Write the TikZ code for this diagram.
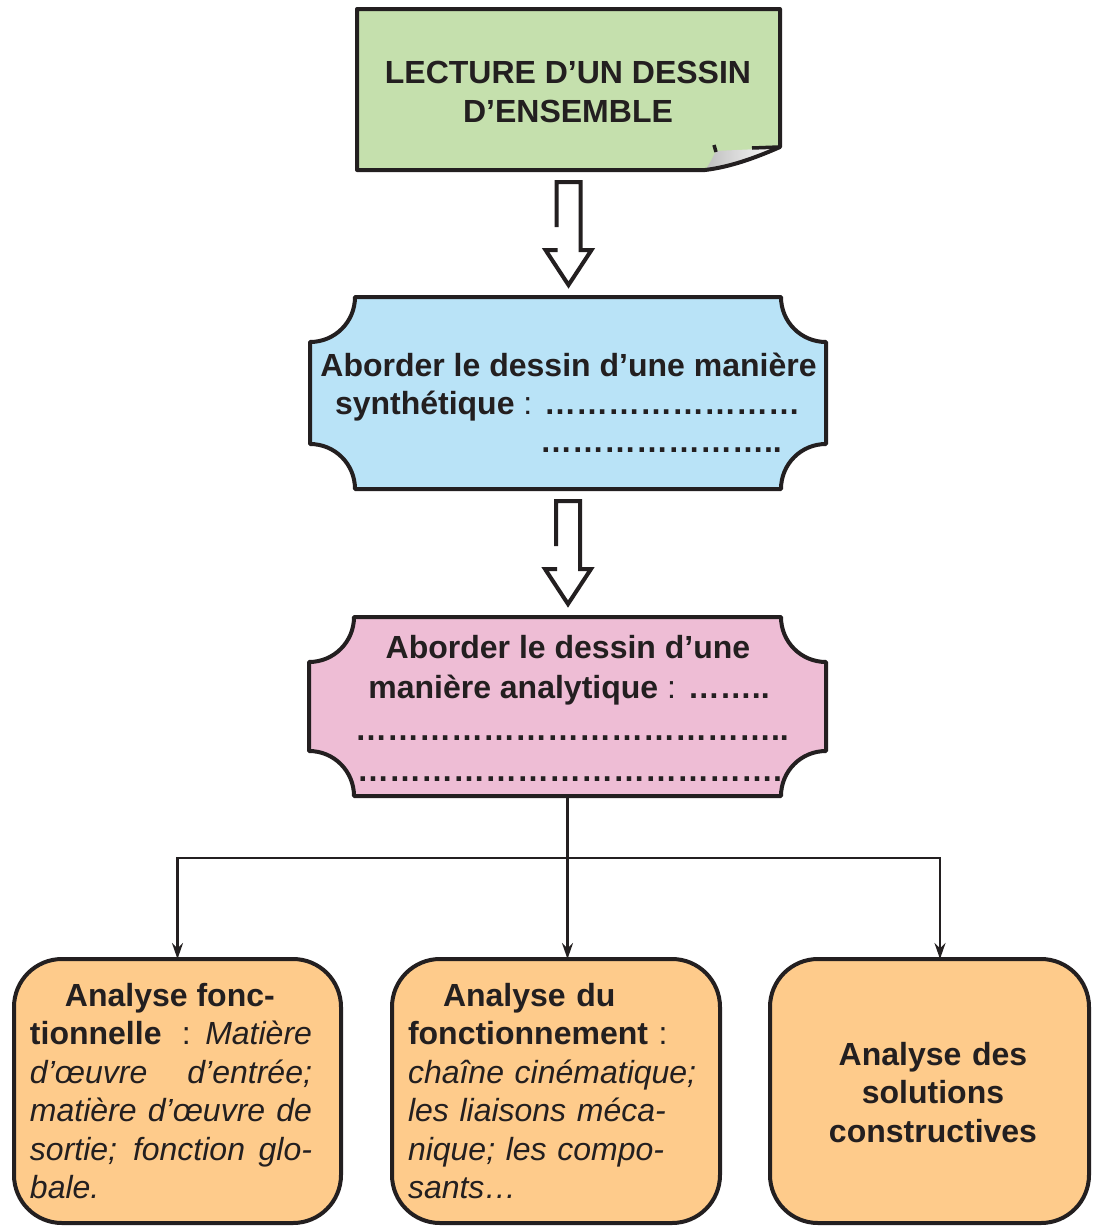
\documentclass[tikz,border=0pt]{standalone}
\usepackage{fontspec}
\setmainfont{Liberation Sans}
\usetikzlibrary{calc,arrows.meta}
\definecolor{ink}{HTML}{231F20}
\definecolor{boxgreen}{HTML}{C5E0AD}
\definecolor{boxblue}{HTML}{B9E3F7}
\definecolor{boxpink}{HTML}{EEBDD5}
\definecolor{boxorange}{HTML}{FECB8B}
\hbadness=10000
\hfuzz=5pt
\newcommand\bigfont{\fontsize{32}{38.5}\selectfont}
% scalloped box drawn on the anchors of an invisible node: #1 name, #2 fill, #3 radius, #4 control offset
\newcommand\scallopbox[4]{%
  \filldraw[fill=#2, draw=ink, line width=4pt, line join=round]
    ($(#1.north west)+(#3,0)$) -- ($(#1.north east)+(-#3,0)$)
    .. controls +(0,#4) and +(-#4,0) .. ($(#1.north east)+(0,#3)$)
    -- ($(#1.south east)+(0,-#3)$)
    .. controls +(-#4,0) and +(0,-#4) .. ($(#1.south east)+(-#3,0)$)
    -- ($(#1.south west)+(#3,0)$)
    .. controls +(0,-#4) and +(#4,0) .. ($(#1.south west)+(0,-#3)$)
    -- ($(#1.north west)+(0,#3)$)
    .. controls +(#4,0) and +(0,#4) .. cycle;}
% hollow block arrow from node #1 to node #2
\newcommand\hollowarrow[2]{%
  \begin{scope}[shift={($(#1.south)+(0,12)$)}]
    \draw[hollow] (-12,45) -- (-12,0) -- (12,0) -- (12,68) -- (23,68) -- (0,103) -- (-23,68) -- (-11,68);
  \end{scope}}
\begin{document}
\begin{tikzpicture}[x=1pt,y=-1pt,
  frame/.style={inner sep=0pt, outer sep=0pt, draw=none},
  roundbox/.style={inner sep=0pt, outer sep=0pt, draw=ink, fill=boxorange, line width=4pt, rounded corners=48pt},
  txt/.style={inner sep=0pt, outer sep=0pt, text=ink, font=\bigfont},
  hollow/.style={draw=ink, line width=4pt, line join=miter},
  conn/.style={draw=ink, line width=2.2pt, -{Stealth[length=16pt,width=11pt]}}]
\useasboundingbox (0,0) rectangle (1093,1227);
\fill[white] (0,0) rectangle (1093,1227);

% frames
\node[frame, minimum width=423pt, minimum height=161pt] (top) at (568.5,89.5) {};
\node[frame, minimum width=516pt, minimum height=192pt] (blue) at (568,393) {};
\node[frame, minimum width=517pt, minimum height=179pt] (pink) at (567.5,706.5) {};
\node[roundbox, minimum width=327pt, minimum height=264pt] (b1) at (177.5,1091) {};
\node[roundbox, minimum width=328pt, minimum height=264pt] (b2) at (556,1091) {};
\node[roundbox, minimum width=319pt, minimum height=264pt] (b3) at (929.5,1091) {};

% top box with curled corner
\path[fill=boxgreen] (top.north west) -- (top.north east) -- ($(top.south east)+(0,-23)$)
  .. controls +(-25,11) and +(25,-3) .. ($(top.south west)+(348,0)$) -- (top.south west) -- cycle;
\shade[left color=gray!50, right color=white] (716,151) -- (779,148)
  .. controls (755,158) and (730,167) .. (706,169) .. controls (710,163) and (713,157) .. cycle;
\draw[ink, line width=4pt, line join=round] (top.north west) -- (top.north east) -- ($(top.south east)+(0,-23)$)
  .. controls +(-25,11) and +(25,-3) .. ($(top.south west)+(348,0)$) -- (top.south west) -- cycle;
\draw[ink, line width=3.5pt] (714,145) -- (716,152);
\draw[ink, line width=3.5pt] (752,148) -- (779,147);

\scallopbox{blue}{boxblue}{45}{24.9}
\scallopbox{pink}{boxpink}{45}{24.9}

% hollow arrows
\hollowarrow{top}{blue}
\hollowarrow{blue}{pink}

% connectors
\coordinate (split) at ($(pink.south)+(0,62)$);
\draw[conn] (pink.south) -- (pink.south |- b2.north);
\draw[conn] (split) -| (b1.north);
\draw[conn] (split) -| ($(b3.north)+(10.5,0)$);

% texts
\node[txt, anchor=base] (t1) at (568,83) {\textbf{LECTURE D’UN DESSIN}};
\node[txt, anchor=base] (t2) at (568,122) {\textbf{D’ENSEMBLE}};

\node[txt, anchor=base] (s1) at (568.5,376) {\textbf{Aborder le dessin d’une manière}};
\node[txt, anchor=base west] (s2) at (335,414) {\textbf{synthétique} : \textbf{……………………}};
\node[txt, anchor=base west] (s3) at (540,452) {\textbf{…………………..}};

\node[txt, anchor=base] (a1) at (568,658) {\textbf{Aborder le dessin d’une}};
\node[txt, anchor=base] (a2) at (569,698) {\textbf{manière analytique} : \textbf{……..}};
\node[txt, anchor=base west] (a3) at (355,740) {\textbf{…………………………………..}};
\node[txt, anchor=base west] (a4) at (357,781) {\textbf{………………………………….}};

\node[txt, text width=282pt, align=justify, anchor=north west] (b1t) at (30,983)
  {\hspace*{35pt}\textbf{Analyse fonc-}\newline
   \textbf{tionnelle} \ : \textit{Matière}\linebreak
   \textit{d’œuvre d’entrée;}\linebreak
   \textit{matière d’œuvre de}\linebreak
   \textit{sortie; fonction glo-}\linebreak
   \textit{bale.}};
\node[txt, text width=300pt, align=left, anchor=north west] (b2t) at (408,983)
  {\hspace*{35pt}\textbf{Analyse du}\\
   \textbf{fonctionnement} :\\
   \textit{chaîne cinématique;}\\
   \textit{les liaisons méca-}\\
   \textit{nique; les compo-}\\
   \textit{sants…}};
\node[txt, text width=300pt, align=center, anchor=north] (b3t) at (933,1042)
  {\textbf{Analyse des}\\ \textbf{solutions}\\ \textbf{constructives}};
\end{tikzpicture}
\end{document}
